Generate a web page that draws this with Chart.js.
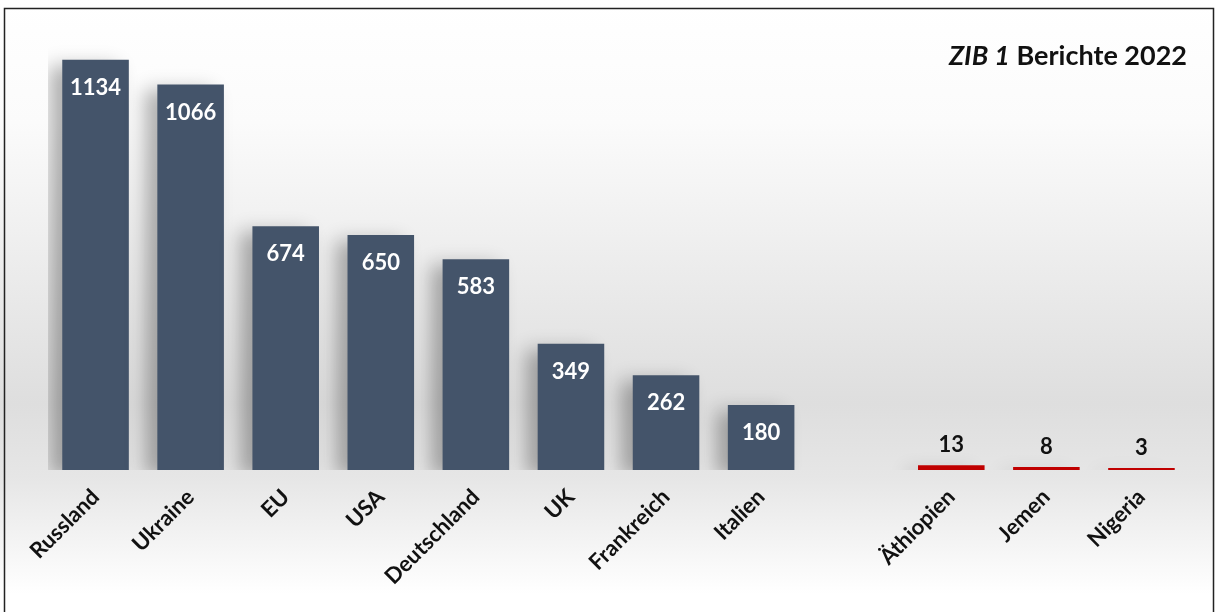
<!DOCTYPE html>
<html>
<head>
<meta charset="utf-8">
<script src="https://cdn.jsdelivr.net/npm/chart.js@4.4.0/dist/chart.umd.min.js"></script>
<style>
  html, body { margin: 0; padding: 0; background: #fff; }
  #wrap { position: relative; width: 1215px; height: 612px; }
  #title {
    position: absolute; right: 28px; top: 38px;
    font-family: Lato, "Open Sans", sans-serif; font-weight: bold; font-size: 27px; color: #111;
  }
</style>
</head>
<body>
<div id="wrap">
  <canvas id="chartCanvas" width="1215" height="612"></canvas>
  <div id="title"><i>ZIB 1</i> Berichte 2022</div>
</div>
<script>
const categories = ['Russland', 'Ukraine', 'EU', 'USA', 'Deutschland', 'UK', 'Frankreich', 'Italien', '', 'Äthiopien', 'Jemen', 'Nigeria'];
const berichte = [1134, 1066, 674, 650, 583, 349, 262, 180, null, 13, 8, 3];
const barColors = ['#44546A', '#44546A', '#44546A', '#44546A', '#44546A', '#44546A', '#44546A', '#44546A', '#44546A', '#C00000', '#C00000', '#C00000'];
const yTicks = [0, 1200];

const bgPlugin = {
    id: 'bg',
    beforeDraw(chart) {
        const c = chart.ctx;
        const h = chart.height;
        const g = c.createLinearGradient(0, 0, 0, h);
        g.addColorStop(0, '#ffffff');
        g.addColorStop(0.2, '#fbfbfb');
        g.addColorStop(0.66, '#dedede');
        g.addColorStop(0.78, '#e6e6e6');
        g.addColorStop(0.97, '#ffffff');
        c.save();
        c.fillStyle = g;
        c.fillRect(0, 0, chart.width, h);
        c.strokeStyle = '#222';
        c.lineWidth = 1.5;
        c.beginPath();
        c.moveTo(4.5, h);
        c.lineTo(4.5, 8.5);
        c.lineTo(1213.5, 8.5);
        c.lineTo(1213.5, h);
        c.stroke();
        c.restore();
    },
    beforeDatasetsDraw(chart) {
        const c = chart.ctx;
        c.save();
        c.shadowColor = 'rgba(0,0,0,0.3)';
        c.shadowBlur = 18;
        c.shadowOffsetX = -12;
        c.shadowOffsetY = 6;
    },
    afterDatasetsDraw(chart) {
        const c = chart.ctx;
        c.restore();
        const meta = chart.getDatasetMeta(0);
        c.save();
        c.textAlign = 'center';
        c.textBaseline = 'middle';
        c.font = 'bold 22px Lato, "Open Sans", sans-serif';
        meta.data.forEach((bar, i) => {
            const v = berichte[i];
            if (v == null) return;
            if (v > 50) {
                c.fillStyle = '#ffffff';
                c.fillText(String(v), bar.x, bar.y + 28);
            } else {
                c.fillStyle = '#111111';
                c.fillText(String(v), bar.x, bar.y - 20);
            }
        });
        c.restore();
    }
};

const ctx = document.getElementById('chartCanvas').getContext('2d');
let chart = new Chart(ctx, {
    type: 'bar',
    data: {
        labels: categories,
        datasets: [{
            data: berichte,
            backgroundColor: barColors,
            borderWidth: 0,
            barPercentage: 0.7,
            categoryPercentage: 1.0,
            minBarLength: 2
        }]
    },
    options: {
        responsive: false,
        animation: false,
        layout: { padding: { left: 48, right: 26, top: 36, bottom: 0 } },
        plugins: { legend: { display: false }, tooltip: { enabled: false } },
        scales: {
            x: {
                grid: { display: false },
                border: { display: false },
                ticks: {
                    color: '#111',
                    font: { family: 'Lato, "Open Sans", sans-serif', weight: 'bold', size: 22 },
                    minRotation: 45,
                    maxRotation: 45,
                    padding: 6
                },
                afterFit(scale) { scale.height = 142; }
            },
            y: {
                display: false,
                min: yTicks[0],
                max: yTicks[1]
            }
        }
    },
    plugins: [bgPlugin]
});
</script>
</body>
</html>
